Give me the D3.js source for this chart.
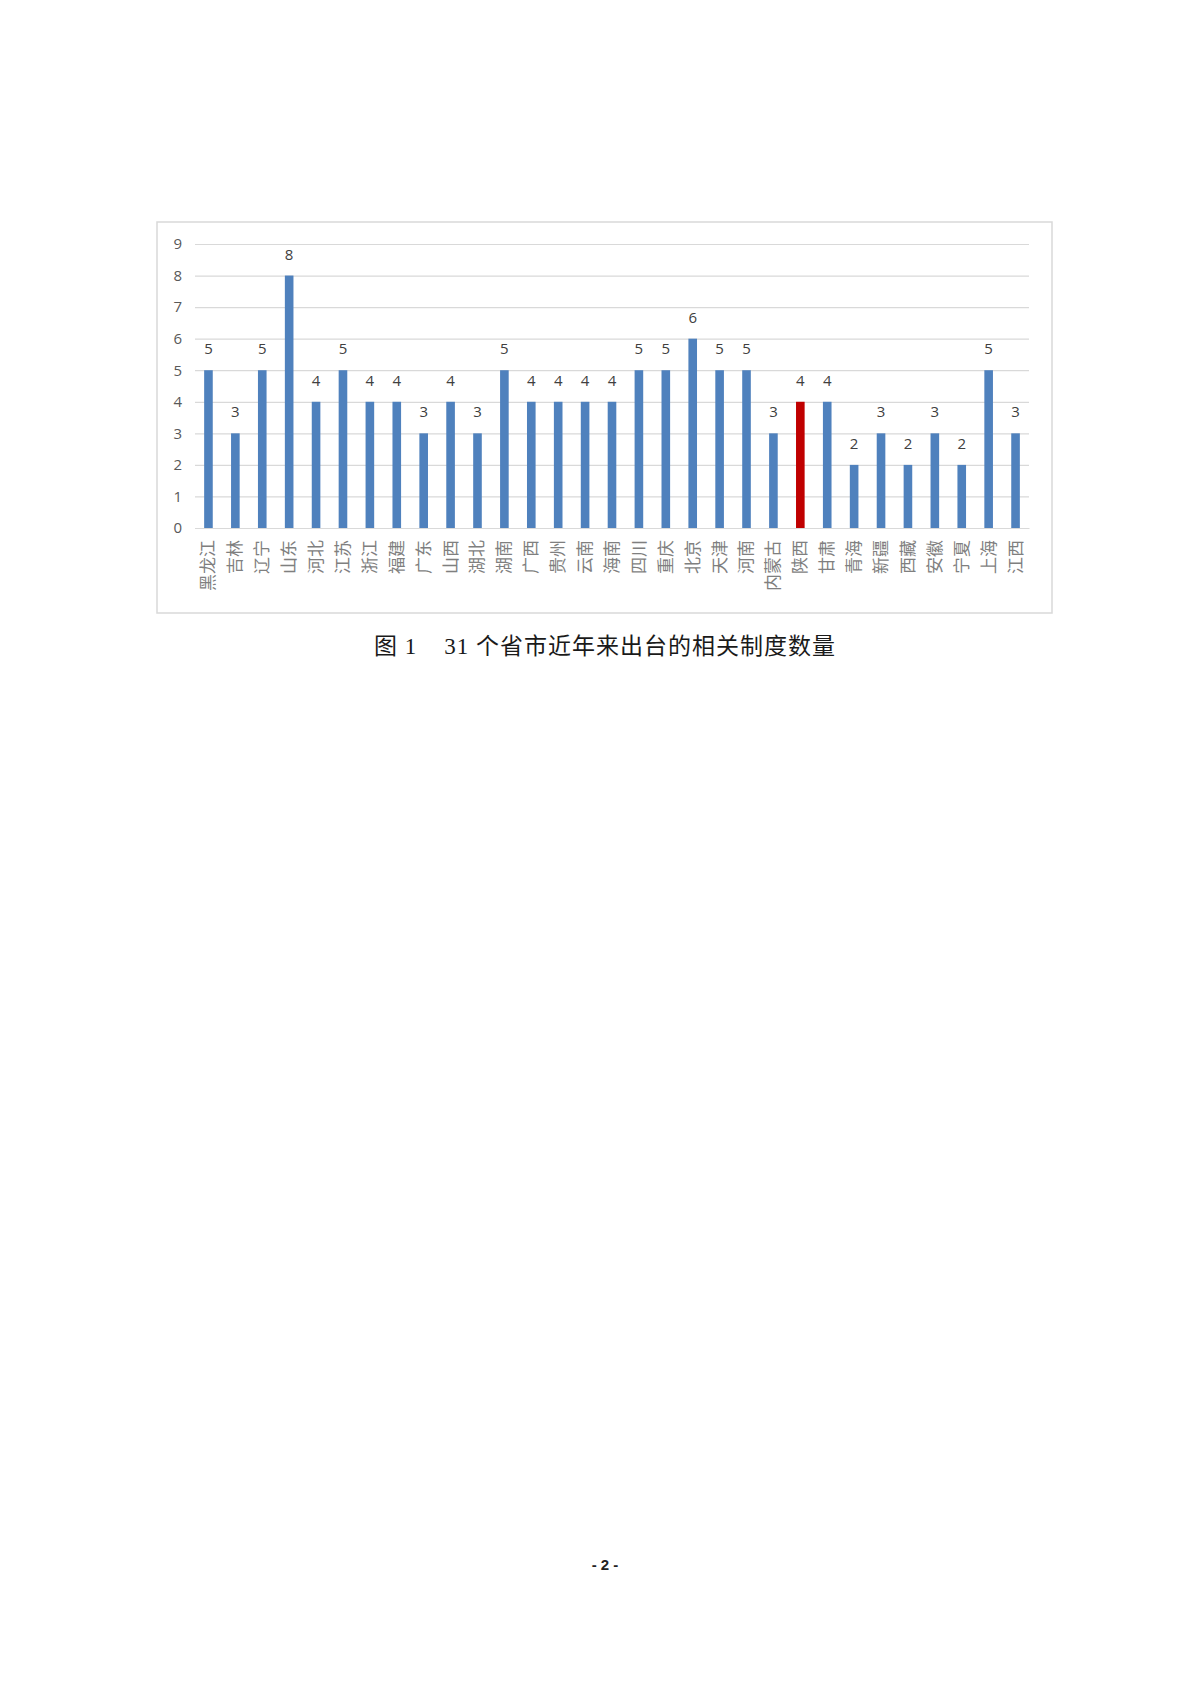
<!DOCTYPE html>
<html lang="zh">

<head>
    <meta charset="UTF-8">
    <title>图1</title>
    <script src="https://cdn.jsdelivr.net/npm/d3@7/dist/d3.min.js"></script>
    <style>
        body {
            margin: 0;
            background: #fff;
        }
    </style>
</head>

<body>
    <div id="page"></div>
    <script>
        // 省市名称与制度数量
        const provinces = ["黑龙江", "吉林", "辽宁", "山东", "河北", "江苏", "浙江", "福建", "广东", "山西",
            "湖北", "湖南", "广西", "贵州", "云南", "海南", "四川", "重庆", "北京", "天津",
            "河南", "内蒙古", "陕西", "甘肃", "青海", "新疆", "西藏", "安徽", "宁夏", "上海", "江西"];
        const counts = [5, 3, 5, 8, 4, 5, 4, 4, 3, 4,
            3, 5, 4, 4, 4, 4, 5, 5, 6, 5,
            5, 3, 4, 4, 2, 3, 2, 3, 2, 5, 3];
        const yTicks = [0, 1, 2, 3, 4, 5, 6, 7, 8, 9];
        const highlight = "陕西";
        const caption = "图 1    31 个省市近年来出台的相关制度数量";

        const width = 1200;
        const height = 1698;
        const data = provinces.map((p, i) => ({ name: p, value: counts[i] }));

        const svg = d3.select("#page")
            .append("svg")
            .attr("width", width)
            .attr("height", height);

        svg.append("rect")
            .attr("width", width)
            .attr("height", height)
            .attr("fill", "#fff");

        // 图表外框
        svg.append("rect")
            .attr("x", 157)
            .attr("y", 222)
            .attr("width", 895)
            .attr("height", 391)
            .attr("fill", "#fff")
            .attr("stroke", "#d9d9d9")
            .attr("stroke-width", 1.5);

        const plot = { left: 195, right: 1029, top: 244, bottom: 528 };

        const x = d3.scaleBand()
            .domain(provinces)
            .range([plot.left, plot.right])
            .paddingInner(0.68)
            .paddingOuter(0.34);

        const y = d3.scaleLinear()
            .domain([0, 9])
            .range([plot.bottom, plot.top]);

        // 纵轴与网格线
        const yAxis = svg.append("g")
            .attr("transform", `translate(${plot.left},0)`)
            .call(d3.axisLeft(y)
                .tickValues(yTicks)
                .tickSize(-(plot.right - plot.left))
                .tickPadding(13)
                .tickFormat(d3.format("d")));
        yAxis.select(".domain").remove();
        yAxis.selectAll(".tick line")
            .attr("stroke", "#d9d9d9")
            .attr("stroke-width", 1.2);
        yAxis.selectAll(".tick text")
            .attr("fill", "#595959")
            .attr("font-size", 15)
            .attr("font-family", "'Open Sans', 'Noto Sans', sans-serif");

        // 柱子
        svg.append("g")
            .selectAll("rect")
            .data(data)
            .join("rect")
            .attr("x", d => x(d.name))
            .attr("y", d => y(d.value))
            .attr("width", x.bandwidth())
            .attr("height", d => y(0) - y(d.value))
            .attr("fill", d => d.name === highlight ? "#c00000" : "#4f81bd");

        // 数据标签
        svg.append("g")
            .selectAll("text")
            .data(data)
            .join("text")
            .attr("x", d => x(d.name) + x.bandwidth() / 2)
            .attr("y", d => y(d.value) - 16)
            .attr("text-anchor", "middle")
            .attr("font-size", 15)
            .attr("font-family", "'Open Sans', 'Noto Sans', sans-serif")
            .attr("fill", "#404040")
            .text(d => d.value);

        // 横轴（竖排标签）
        const xAxis = svg.append("g")
            .attr("transform", `translate(0,${plot.bottom})`)
            .call(d3.axisBottom(x).tickSize(0).tickPadding(0));
        xAxis.select(".domain")
            .attr("stroke", "#d9d9d9")
            .attr("stroke-width", 1.2);
        xAxis.selectAll(".tick text")
            .attr("transform", "translate(0,12) rotate(-90)")
            .attr("x", 0)
            .attr("y", 0)
            .attr("dy", "0.35em")
            .attr("text-anchor", "end")
            .attr("font-size", 17)
            .attr("font-family", "'Noto Sans CJK SC', sans-serif")
            .attr("fill", "#7f7f7f");

        // 图题
        svg.append("text")
            .attr("x", 605)
            .attr("y", 654)
            .attr("text-anchor", "middle")
            .attr("font-size", 23)
            .attr("letter-spacing", 1)
            .attr("font-family", "'Liberation Serif', 'Noto Sans CJK SC', serif")
            .attr("fill", "#1a1a1a")
            .style("white-space", "pre")
            .text(caption);

        // 页码
        svg.append("text")
            .attr("x", 605)
            .attr("y", 1570)
            .attr("text-anchor", "middle")
            .attr("font-size", 15)
            .attr("font-weight", "bold")
            .attr("font-family", "'Liberation Sans', sans-serif")
            .attr("fill", "#222")
            .style("white-space", "pre")
            .text("- 2 -");
    </script>
</body>

</html>
